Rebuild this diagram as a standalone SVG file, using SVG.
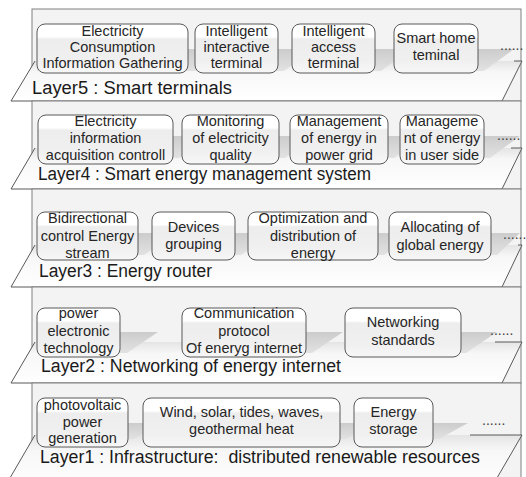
<svg xmlns="http://www.w3.org/2000/svg" width="526" height="477" viewBox="0 0 526 477">
<defs>
<linearGradient id="boxG" x1="0" y1="0" x2="0" y2="1">
<stop offset="0" stop-color="#ffffff"/><stop offset="0.26" stop-color="#ffffff"/><stop offset="0.31" stop-color="#ededed"/><stop offset="0.75" stop-color="#f0f0f0"/><stop offset="1" stop-color="#f7f7f7"/>
</linearGradient>
<linearGradient id="shelfG" x1="0" y1="0" x2="0" y2="1">
<stop offset="0" stop-color="#e4e4e4"/><stop offset="0.28" stop-color="#f7f7f7"/><stop offset="1" stop-color="#ffffff"/>
</linearGradient>
<linearGradient id="shG" x1="0" y1="0" x2="0" y2="1">
<stop offset="0" stop-color="#cccccc"/><stop offset="1" stop-color="#e2e2e2"/>
</linearGradient>
<style>
.panel{fill:#f3f3f3;stroke:#808080;stroke-width:1}
.shelf{fill:url(#shelfG);stroke:none}
.edge{fill:none;stroke:#595959;stroke-width:1}
.sh{fill:url(#shG)}
.box{fill:url(#boxG);stroke:#595959;stroke-width:1}
.t{font-family:"Liberation Sans",Arial,sans-serif;font-size:14.5px;fill:#262626;text-anchor:middle}
.lab{font-family:"Liberation Sans",Arial,sans-serif;font-size:18px;fill:#1a1a1a}
.dots{font-family:"Liberation Sans",Arial,sans-serif;font-size:14px;fill:#404040}
</style>
</defs>

<!-- Layer 5 -->
<g id="layer5">
<rect class="panel" x="32" y="9" width="489" height="92"/>
<polygon class="shelf" points="35,61 522,61 502,101 11,101"/>
<path class="edge" d="M35,61 L11,101 L502,101 L522,61 L514,61"/>
<polygon class="sh" points="37,49 224,49 194,71 37,71"/>
<polygon class="sh" points="195,49 314,49 284,71 195,71"/>
<polygon class="sh" points="292,49 411,49 381,71 292,71"/>
<polygon class="sh" points="394,49 514,49 484,71 394,71"/>
<text class="dots" x="500" y="50">......</text>
<text class="lab" x="32" y="94" textLength="200" lengthAdjust="spacingAndGlyphs">Layer5 : Smart terminals</text>
</g>
<g id="n5a"><rect class="box" x="37" y="24" width="151" height="49" rx="8"/>
<text class="t" x="112.5" y="36">Electricity</text><text class="t" x="112.5" y="52">Consumption</text><text class="t" x="112.5" y="68">Information Gathering</text></g>
<g id="n5b"><rect class="box" x="195" y="24" width="83" height="49" rx="8"/>
<text class="t" x="236.5" y="36">Intelligent</text><text class="t" x="236.5" y="52">interactive</text><text class="t" x="236.5" y="68">terminal</text></g>
<g id="n5c"><rect class="box" x="292" y="24" width="83" height="49" rx="8"/>
<text class="t" x="333.5" y="36">Intelligent</text><text class="t" x="333.5" y="52">access</text><text class="t" x="333.5" y="68">terminal</text></g>
<g id="n5d"><rect class="box" x="394" y="24" width="84" height="49" rx="8"/>
<text class="t" x="436" y="43">Smart home</text><text class="t" x="436" y="60">teminal</text></g>

<!-- Layer 4 -->
<g id="layer4">
<rect class="panel" x="32" y="101" width="489" height="88"/>
<polygon class="shelf" points="35,148 522,148 502,189 11,189"/>
<path class="edge" d="M35,148 L11,189 L502,189 L522,148 L511,148"/>
<polygon class="sh" points="38,136 209,136 179,158 38,158"/>
<polygon class="sh" points="182,136 315,136 285,158 182,158"/>
<polygon class="sh" points="290,136 424,136 394,158 290,158"/>
<polygon class="sh" points="400,136 520,136 490,158 400,158"/>
<text class="dots" x="497" y="140">......</text>
<text class="lab" x="38" y="180" textLength="333" lengthAdjust="spacingAndGlyphs">Layer4 : Smart energy management system</text>
</g>
<g id="n4a"><rect class="box" x="38" y="115" width="135" height="49" rx="8"/>
<text class="t" x="105.5" y="126">Electricity</text><text class="t" x="105.5" y="143">information</text><text class="t" x="105.5" y="160">acquisition controll</text></g>
<g id="n4b"><rect class="box" x="182" y="115" width="97" height="49" rx="8"/>
<text class="t" x="230.5" y="126">Monitoring</text><text class="t" x="230.5" y="143">of electricity</text><text class="t" x="230.5" y="160">quality</text></g>
<g id="n4c"><rect class="box" x="290" y="115" width="98" height="49" rx="8"/>
<text class="t" x="339" y="126">Management</text><text class="t" x="339" y="143">of energy in</text><text class="t" x="339" y="160">power grid</text></g>
<g id="n4d"><rect class="box" x="400" y="115" width="84" height="49" rx="8"/>
<text class="t" x="442" y="126">Manageme</text><text class="t" x="442" y="143">nt of energy</text><text class="t" x="442" y="160">in user side</text></g>

<!-- Layer 3 -->
<g id="layer3">
<rect class="panel" x="32" y="189" width="489" height="98"/>
<polygon class="shelf" points="35,245 522,245 502,287 11,287"/>
<path class="edge" d="M35,245 L11,287 L502,287 L522,245 L518,245"/>
<polygon class="sh" points="37,233 174,233 144,255 37,255"/>
<polygon class="sh" points="152,233 271,233 241,255 152,255"/>
<polygon class="sh" points="248,233 414,233 384,255 248,255"/>
<polygon class="sh" points="389,233 520,233 497,255 389,255"/>
<text class="dots" x="503" y="239">......</text>
<text class="lab" x="39" y="277" textLength="173" lengthAdjust="spacingAndGlyphs">Layer3 : Energy router</text>
</g>
<g id="n3a"><rect class="box" x="37" y="212" width="101" height="48" rx="8"/>
<text class="t" x="87.5" y="223">Bidirectional</text><text class="t" x="87.5" y="241">control Energy</text><text class="t" x="87.5" y="258">stream</text></g>
<g id="n3b"><rect class="box" x="152" y="212" width="83" height="48" rx="8"/>
<text class="t" x="193.5" y="232">Devices</text><text class="t" x="193.5" y="249">grouping</text></g>
<g id="n3c"><rect class="box" x="248" y="212" width="130" height="48" rx="8"/>
<text class="t" x="313" y="223">Optimization and</text><text class="t" x="313" y="241">distribution of</text><text class="t" x="313" y="258">energy</text></g>
<g id="n3d"><rect class="box" x="389" y="212" width="102" height="48" rx="8"/>
<text class="t" x="440" y="232">Allocating of</text><text class="t" x="440" y="250">global energy</text></g>

<!-- Layer 2 -->
<g id="layer2">
<rect class="panel" x="32" y="287" width="489" height="96"/>
<polygon class="shelf" points="35,342 522,342 502,383 11,383"/>
<path class="edge" d="M35,342 L11,383 L502,383 L522,342 L495,342"/>
<polygon class="sh" points="37,332 158,332 127,353 37,353"/>
<polygon class="sh" points="182,332 343,332 312,353 182,353"/>
<polygon class="sh" points="345,332 497,332 466,353 345,353"/>
<text class="dots" x="490" y="335">......</text>
<text class="lab" x="41" y="372" textLength="300" lengthAdjust="spacingAndGlyphs">Layer2 : Networking of energy internet</text>
</g>
<g id="n2a"><rect class="box" x="37" y="308" width="83" height="49" rx="8"/>
<text class="t" x="78.5" y="318">power</text><text class="t" x="78.5" y="336">electronic</text><text class="t" x="78.5" y="353">technology</text></g>
<g id="n2b"><rect class="box" x="182" y="308" width="124" height="49" rx="8"/>
<text class="t" x="244" y="318">Communication</text><text class="t" x="244" y="336">protocol</text><text class="t" x="244" y="353">Of eneryg internet</text></g>
<g id="n2c"><rect class="box" x="345" y="308" width="116" height="49" rx="8"/>
<text class="t" x="403" y="327">Networking</text><text class="t" x="403" y="345">standards</text></g>

<!-- Layer 1 -->
<g id="layer1">
<rect class="panel" x="32" y="383" width="489" height="110"/>
<polygon class="shelf" points="35,435 522,435 490,490 3,490"/>
<path class="edge" d="M35,435 L3,490 M490,490 L522,435 L470,435"/>
<polygon class="sh" points="37,423 164,423 134,439 37,439"/>
<polygon class="sh" points="143,423 376,423 346,439 143,439"/>
<polygon class="sh" points="354,423 468,423 439,439 354,439"/>
<text class="dots" x="482" y="425">......</text>
<text class="lab" x="40" y="463" textLength="440" lengthAdjust="spacingAndGlyphs">Layer1 : Infrastructure:&#160; distributed renewable resources</text>
</g>
<g id="n1a"><rect class="box" x="37" y="398" width="91" height="49" rx="8"/>
<text class="t" x="82.5" y="410">photovoltaic</text><text class="t" x="82.5" y="427">power</text><text class="t" x="82.5" y="443">generation</text></g>
<g id="n1b"><rect class="box" x="143" y="398" width="197" height="49" rx="8"/>
<text class="t" x="241.5" y="417">Wind, solar, tides, waves,</text><text class="t" x="241.5" y="434">geothermal heat</text></g>
<g id="n1c"><rect class="box" x="354" y="398" width="79" height="49" rx="8"/>
<text class="t" x="393.5" y="417">Energy</text><text class="t" x="393.5" y="434">storage</text></g>

<g id="connectors"></g>
</svg>
